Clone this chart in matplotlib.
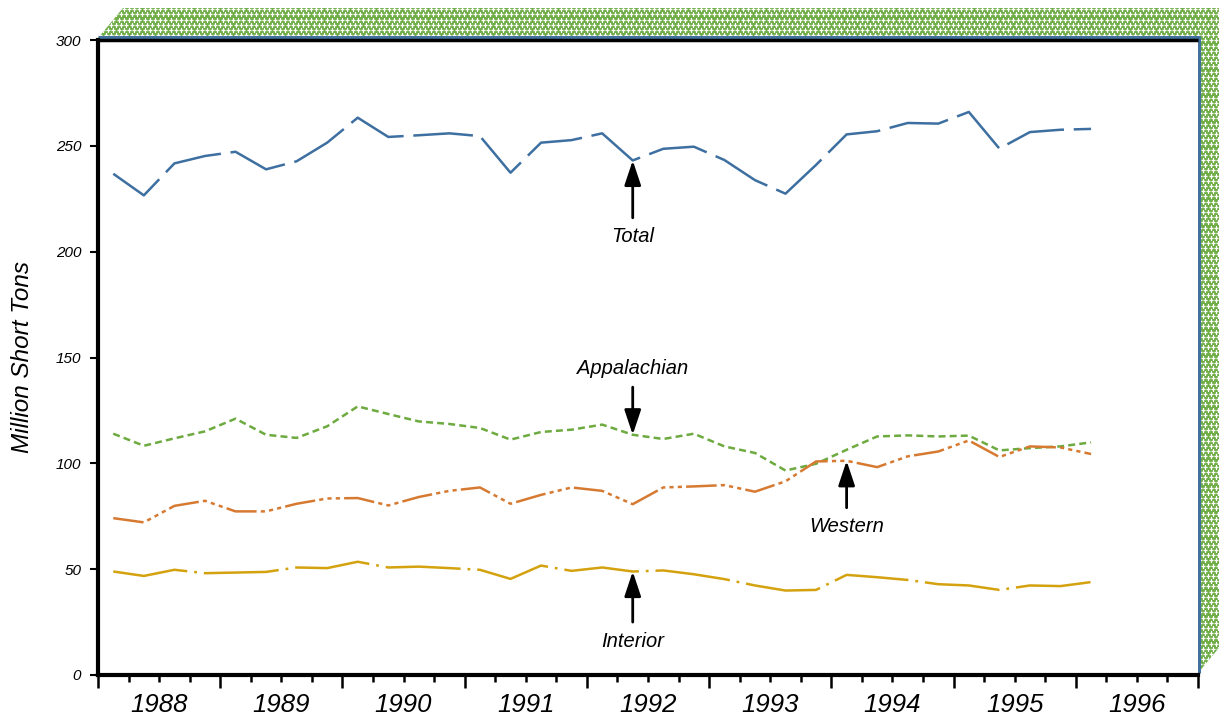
import numpy as np
import matplotlib
matplotlib.use("Agg")
import matplotlib.pyplot as plt
from matplotlib.patches import Polygon

plt.rcParams['font.family'] = ['Liberation Sans', 'DejaVu Sans']
plt.rcParams['lines.scale_dashes'] = False

# ---- data (quarterly, 1988 Q1 .. 1996 Q1), million short tons ----
years = [1988, 1989, 1990, 1991, 1992, 1993, 1994, 1995, 1996]
quarters = [f"{y} Q{q}" for y in years for q in (1, 2, 3, 4)][:33]

total = [236.8, 226.6, 241.7, 245.2, 247.2, 238.9, 242.7, 251.5, 263.3, 254.2, 255.0,
         255.9, 254.6, 237.3, 251.5, 252.7, 255.9, 243.1, 248.6, 249.6, 243.3, 233.8,
         227.4, 241.0, 255.4, 256.9, 260.8, 260.5, 266.0, 248.7, 256.5, 257.6, 258.0]
appalachian = [114.0, 108.3, 111.8, 115.1, 121.1, 113.5, 112.0, 117.5, 126.9, 123.3, 119.8,
               118.6, 116.7, 111.2, 114.8, 115.9, 118.3, 113.5, 111.5, 114.0, 108.0, 104.9,
               96.6, 99.8, 106.4, 112.7, 113.2, 112.7, 113.1, 106.1, 107.2, 108.0, 109.9]
western = [74.1, 72.1, 79.9, 82.3, 77.3, 77.3, 80.9, 83.4, 83.6, 80.1, 84.1,
           87.0, 88.6, 80.9, 85.1, 88.6, 87.0, 80.7, 88.6, 89.1, 89.7, 86.6,
           91.5, 100.9, 101.2, 98.2, 103.3, 105.6, 110.8, 103.0, 108.0, 107.5, 104.4]
interior = [48.9, 46.8, 49.7, 48.1, 48.4, 48.7, 50.8, 50.5, 53.5, 50.8, 51.2,
            50.5, 49.7, 45.4, 51.7, 49.2, 50.8, 48.9, 49.4, 47.6, 45.3, 42.3,
            39.9, 40.2, 47.3, 46.2, 44.9, 42.9, 42.3, 40.2, 42.3, 42.0, 43.9]

series_names = ["Total", "Appalachian", "Western", "Interior"]
y_ticks = [0, 50, 100, 150, 200, 250, 300]

W, H = 1219, 719
fig = plt.figure(figsize=(W / 100, H / 100), dpi=100)

# ---- background overlay in pixel coordinates for decorative 3D frame ----
bg = fig.add_axes([0, 0, 1, 1], zorder=0)
bg.set_xlim(0, W)
bg.set_ylim(H, 0)
bg.axis('off')

L, R, T, B = 98, 1198, 38, 673
dx, dy = 25, -30
green = '#70AD47'
top_face = Polygon([(L, T), (R, T), (R + dx, T + dy), (L + dx, T + dy)], closed=True,
                   facecolor=green, edgecolor='none')
right_face = Polygon([(R, T), (R, B), (R + dx, B + dy), (R + dx, T + dy)], closed=True,
                     facecolor=green, edgecolor='none')
bg.add_patch(top_face)
bg.add_patch(right_face)
gx, gy = np.meshgrid(np.arange(90, W + 5, 5.2), np.arange(4, H, 5.2))
gx = gx + (np.arange(gx.shape[0])[:, None] % 2) * 2.6
for face in (top_face, right_face):
    sc = bg.scatter(gx.ravel(), gy.ravel(), marker='+', s=6, c='white', linewidths=0.9)
    sc.set_clip_path(face)
bg.plot([L, R + 1, R + 1], [T - 1, T - 1, B], color='#41719C', lw=2.2, solid_capstyle='butt')

# ---- main axes ----
ax = fig.add_axes([L / W, 1 - 675 / H, (R - L) / W, (675 - 40) / H], zorder=1)
ax.set_facecolor('white')

x = np.arange(len(quarters)) + 0.5
styles = {
    "Total": dict(color='#3D6FA0', ls=(0, (43, 7))),
    "Appalachian": dict(color='#6DAA3F', ls=(0, (5, 3))),
    "Western": dict(color='#D67A32', ls=(0, (22, 3, 3, 3, 3, 3, 3, 3))),
    "Interior": dict(color='#D4A20E', ls=(0, (54, 5, 2, 5))),
}
data = {"Total": total, "Appalachian": appalachian, "Western": western, "Interior": interior}
for name in series_names:
    ax.plot(x, data[name], lw=1.8, color=styles[name]['color'], linestyle=styles[name]['ls'],
            solid_capstyle='butt', dash_capstyle='butt')

ax.set_xlim(0, 36)
ax.set_ylim(0, 300)

for s in ('top', 'right'):
    ax.spines[s].set_visible(False)
ax.spines['left'].set_linewidth(3)
ax.spines['bottom'].set_linewidth(3)
ax.plot([0, 36], [300, 300], color='black', lw=2.5, clip_on=False, solid_capstyle='butt')

ax.set_yticks(y_ticks)
ax.set_yticklabels([str(v) for v in y_ticks], fontsize=11, style='italic')
ax.tick_params(axis='y', length=6, width=1.5, pad=6)

ax.set_xticks(np.arange(0, 37, 4))
ax.set_xticklabels([])
ax.set_xticks(np.arange(0, 37, 1), minor=True)
ax.tick_params(axis='x', which='major', length=9, width=1.8)
ax.tick_params(axis='x', which='minor', length=5, width=1.8)
for i, yr in enumerate(years):
    ax.text(4 * i + 2, -0.048, str(yr), transform=ax.get_xaxis_transform(),
            ha='center', va='center', fontsize=18.5, style='italic')

ax.set_ylabel("Million Short Tons", fontsize=17.5, style='italic', labelpad=16)

# ---- annotations ----
arrow = dict(arrowstyle='-|>,head_length=0.75,head_width=0.25', color='black', lw=2,
             mutation_scale=20, shrinkA=0, shrinkB=0)
ann = [
    ("Total", 17, total[17], 216, 207),
    ("Appalachian", 17, appalachian[17], 136, 145),
    ("Western", 24, western[24], 79, 70),
    ("Interior", 17, interior[17], 25, 16),
]
for name, idx, val, tail, ty in ann:
    xi = x[idx]
    ax.annotate('', xy=(xi, val), xytext=(xi, tail), arrowprops=arrow)
    ax.text(xi, ty, name, ha='center', va='center', fontsize=14.5, style='italic')

fig.savefig("out.png", dpi=100)
